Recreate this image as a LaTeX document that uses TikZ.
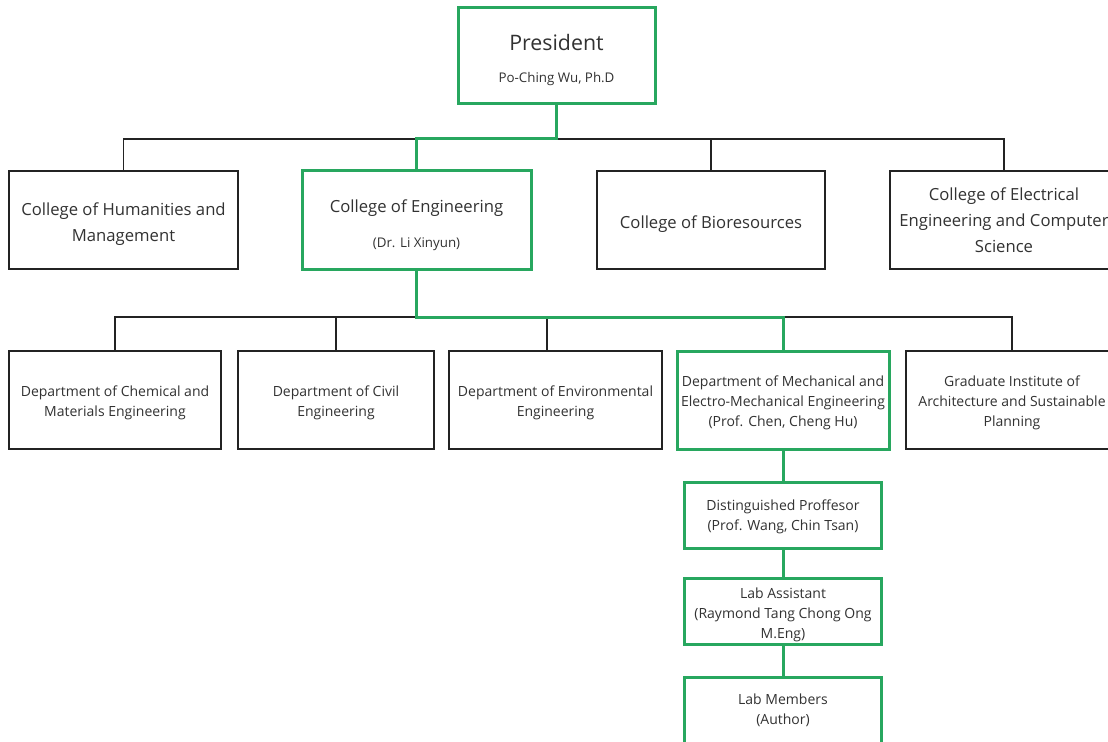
\documentclass[tikz,border=0pt]{standalone}
\usepackage{fontspec}
\setmainfont{Open Sans}
\definecolor{grn}{RGB}{40,167,95}
\definecolor{txt}{RGB}{50,50,50}
\definecolor{edge}{RGB}{35,35,35}
\newcommand\mystrut[1]{\rule{0pt}{#1}}
\begin{document}
\begin{tikzpicture}[x=0.75pt,y=-0.75pt,
  box/.style={draw=edge, line width=1.1pt, inner sep=1pt, align=center, text=txt},
  gbox/.style={draw=grn, line width=2.25pt, inner sep=1pt, align=center, text=txt},
  colw/.style={minimum width=171.75pt, minimum height=73.5pt, font=\fontsize{12.5}{19.5}\selectfont},
  deptw/.style={minimum height=73.5pt, font=\fontsize{10.5}{15}\selectfont},
  labw/.style={minimum width=147.75pt, minimum height=49.5pt, font=\fontsize{10.5}{15}\selectfont},
  bline/.style={draw=edge, line width=1.1pt},
  gline/.style={draw=grn, line width=2.25pt}]
\useasboundingbox (0,0) rectangle (1108,742);
\fill[white] (0,0) rectangle (1108,742);
\clip (0,0) rectangle (1108,742);

% bus coordinates
\coordinate (b1) at (0,139);
\coordinate (b2) at (0,317);
\coordinate (envx) at (547,317);

% President
\node[gbox, minimum width=147.75pt, minimum height=72pt, font=\fontsize{16}{10}\selectfont] (pres) at (556.5,56)
  {\mystrut{18.2pt}President\\[14pt]\fontsize{10}{10}\selectfont Po-Ching Wu, Ph.D};

% Colleges
\node[box, colw] (hum) at (123.5,220) {\mystrut{15.5pt}College of Humanities and\\Management};
\node[gbox, colw, font=\fontsize{12.5}{10}\selectfont] (eng) at (416.5,220)
  {\mystrut{17pt}College of Engineering\\[15pt]\fontsize{10}{10}\selectfont (Dr. Li Xinyun)};
\node[box, colw, minimum width=171pt] (bio) at (711,220) {\mystrut{15.5pt}College of Bioresources};
\node[box, colw, minimum width=171pt] (elec) at (1004,220) {College of Electrical\\Engineering and Computer\\Science};

% Departments
\node[box, deptw, minimum width=159pt] (chem) at (115,400) {\mystrut{12.5pt}Department of Chemical and\\Materials Engineering};
\node[box, deptw, minimum width=147pt] (civ) at (336,400) {\mystrut{12.5pt}Department of Civil\\Engineering};
\node[box, deptw, minimum width=159.75pt] (env) at (555.5,400) {\mystrut{12.5pt}Department of Environmental\\Engineering};
\node[gbox, deptw, minimum width=159pt] (mech) at (783,400) {\mystrut{12.5pt}Department of Mechanical and\\Electro-Mechanical Engineering\\(Prof. Chen, Cheng Hu)};
\node[box, deptw, minimum width=159pt] (grad) at (1012,400) {\mystrut{12.5pt}Graduate Institute of\\Architecture and Sustainable\\Planning};

% Lab chain
\node[gbox, labw] (dist) at (783,515) {\mystrut{11pt}Distinguished Proffesor\\(Prof. Wang, Chin Tsan)};
\node[gbox, labw] (asst) at (783,611) {\mystrut{13.25pt}Lab Assistant\\(Raymond Tang Chong Ong\\M.Eng)};
\node[gbox, labw] (mem) at (783,710) {Lab Members\\(Author)};

% black connectors
\path[bline] (eng.north |- b1) -| (hum.north);
\path[bline] (pres.south |- b1) -| (bio.north);
\path[bline] (bio.north |- b1) -| (elec.north);
\path[bline] (eng.south |- b2) -| (chem.north);
\path[bline] (civ.north |- b2) -- (civ.north);
\path[bline] (envx) -- (envx |- env.north);
\path[bline] (mech.north |- b2) -| (grad.north);

% green connectors
\path[gline] (pres.south) -- (pres.south |- b1) -| (eng.north);
\path[gline] (eng.south) -- (eng.south |- b2) -| (mech.north);
\path[gline] (mech.south) -- (dist.north);
\path[gline] (dist.south) -- (asst.north);
\path[gline] (asst.south) -- (mem.north);
\end{tikzpicture}
\end{document}
